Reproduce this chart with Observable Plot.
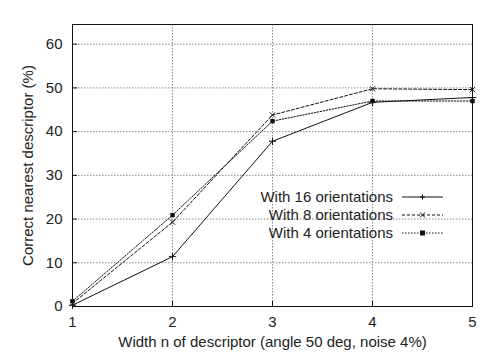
<!DOCTYPE html>
<html>
<head>
<meta charset="utf-8">
<script src="https://cdn.jsdelivr.net/npm/d3@7"></script>
<script src="https://cdn.jsdelivr.net/npm/@observablehq/plot@0.6"></script>
<style>
  html, body { margin: 0; padding: 0; background: #fff; }
  #chart svg { display: block; }
</style>
</head>
<body>
<div id="chart"></div>
<script>
const widths = [1, 2, 3, 4, 5];
const orient16 = [0.3, 11.4, 37.8, 46.7, 47.8];
const orient8 = [0.7, 19.3, 43.8, 49.8, 49.6];
const orient4 = [1.2, 20.9, 42.4, 47.0, 47.0];
const seriesNames = ["With 16 orientations", "With 8 orientations", "With 4 orientations"];
const seriesValues = [orient16, orient8, orient4];
const dashes = [null, "3,2", "1.5,1.5"];
const symbols = ["plus", "times", "square"];
const xTicks = [1, 2, 3, 4, 5];
const yTicks = [0, 10, 20, 30, 40, 50, 60];

const data = seriesNames.flatMap((name, i) =>
  widths.map((w, j) => ({ series: name, idx: i, x: w, y: seriesValues[i][j] }))
);

const font = "Liberation Sans, Arial, Helvetica, sans-serif";
const fs = 15;

function legendMark(_, scales, values, dims) {
  const g = d3.create("svg:g").attr("font-family", font).attr("font-size", fs);
  const right = dims.width - dims.marginRight;
  const top = dims.marginTop;
  seriesNames.forEach((name, i) => {
    const yy = top + 173 + i * 18;
    const x1 = right - 70, x2 = right - 29;
    g.append("text").attr("x", x1 - 9).attr("y", yy).attr("dy", "0.35em")
      .attr("text-anchor", "end").attr("fill", "#222").text(name);
    g.append("line").attr("x1", x1).attr("x2", x2).attr("y1", yy).attr("y2", yy)
      .attr("stroke", "#111").attr("stroke-width", 1)
      .attr("stroke-dasharray", dashes[i]);
    const sym = symbols[i];
    const cx = (x1 + x2) / 2;
    if (sym === "plus") {
      g.append("path").attr("d", `M${cx-2.5},${yy}H${cx+2.5}M${cx},${yy-2.5}V${yy+2.5}`).attr("stroke", "#111");
    } else if (sym === "times") {
      g.append("path").attr("d", `M${cx-2.5},${yy-2.5}L${cx+2.5},${yy+2.5}M${cx-2.5},${yy+2.5}L${cx+2.5},${yy-2.5}`).attr("stroke", "#111");
    } else {
      g.append("rect").attr("x", cx - 2.5).attr("y", yy - 2.5).attr("width", 5).attr("height", 5).attr("fill", "#111");
    }
  });
  return g.node();
}

const chart = Plot.plot({
  width: 488,
  height: 364,
  marginLeft: 72,
  marginRight: 16,
  marginTop: 24,
  marginBottom: 58,
  style: { fontFamily: font, fontSize: fs + "px", color: "#222", background: "#fff" },
  x: { type: "linear", domain: [1, 5], label: null },
  y: { type: "linear", domain: [0, 64.5], label: null },
  marks: [
    Plot.gridX(xTicks.slice(1, -1), { stroke: "#888", strokeOpacity: 1, strokeDasharray: "1.5,1.5" }),
    Plot.gridY(yTicks.slice(1), { stroke: "#888", strokeOpacity: 1, strokeDasharray: "1.5,1.5" }),
    Plot.axisX(xTicks, { tickSize: -5, tickPadding: 15, tickFormat: "d", fontSize: fs, stroke: "#111", label: null }),
    Plot.axisY(yTicks, { tickSize: -5, tickPadding: 15, tickFormat: "d", fontSize: fs, stroke: "#111", label: null }),
    Plot.text(["Width n of descriptor (angle 50 deg, noise 4%)"], {
      frameAnchor: "bottom", dy: 40, text: d => d, fontSize: fs, fill: "#222"
    }),
    Plot.text(["Correct nearest descriptor (%)"], {
      frameAnchor: "left", textAnchor: "middle", dx: -44, rotate: -90, text: d => d, fontSize: fs, fill: "#222"
    }),
    ...seriesNames.map((name, i) =>
      Plot.line(data.filter(d => d.idx === i), {
        x: "x", y: "y", stroke: "#111", strokeWidth: 1, strokeDasharray: dashes[i]
      })
    ),
    Plot.dot(data.filter(d => d.idx === 0), { x: "x", y: "y", symbol: "plus", r: 2.5, stroke: "#111", strokeWidth: 1 }),
    Plot.dot(data.filter(d => d.idx === 1), { x: "x", y: "y", symbol: "times", r: 2.5, stroke: "#111", strokeWidth: 1 }),
    Plot.dot(data.filter(d => d.idx === 2), { x: "x", y: "y", symbol: "square", r: 2.5, fill: "#111" }),
    Plot.frame({ stroke: "#111", strokeWidth: 1 }),
    legendMark
  ]
});

document.getElementById("chart").appendChild(chart);
</script>
</body>
</html>
